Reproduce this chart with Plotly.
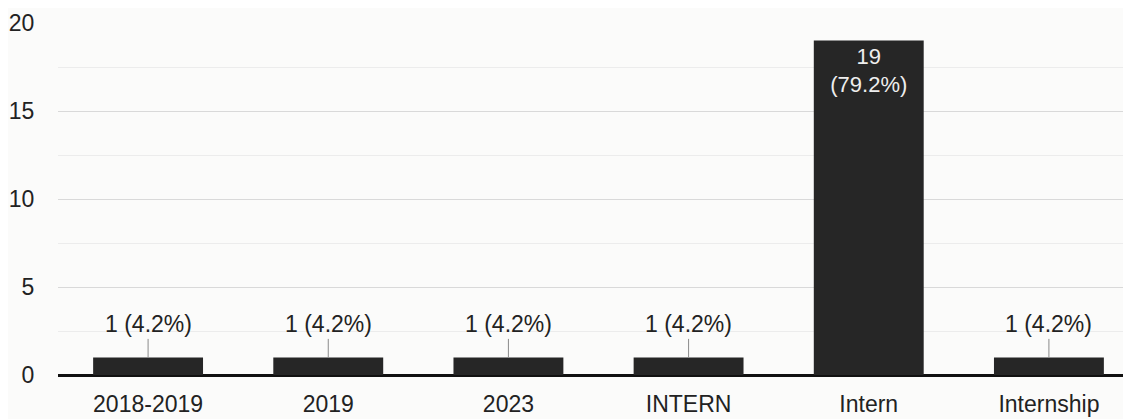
import plotly.graph_objects as go

categories = ["2018-2019", "2019", "2023", "INTERN", "Intern", "Internship"]
counts = [1, 1, 1, 1, 19, 1]
percents = ["4.2%", "4.2%", "4.2%", "4.2%", "79.2%", "4.2%"]

FONT = "Liberation Sans, Arial, sans-serif"
BAR = "#262626"

inside_text = [f"{c}<br>({p})" if c >= 10 else "" for c, p in zip(counts, percents)]

fig = go.Figure()
fig.add_trace(go.Bar(
    x=list(range(len(categories))), y=counts, width=0.61,
    marker=dict(color=BAR, line=dict(width=0)),
    text=inside_text, textposition="inside", insidetextanchor="end",
    textfont=dict(color="#eeeeee", size=22, family=FONT),
    cliponaxis=False, hoverinfo="skip",
))

for i, (c, p) in enumerate(zip(counts, percents)):
    if c < 10:
        fig.add_annotation(
            x=i, y=c, text=f"{c} ({p})", showarrow=True, arrowhead=0,
            arrowwidth=1, arrowcolor="#8a8a8a", ax=0, ay=-33,
            font=dict(size=23, color="#222", family=FONT),
        )

fig.update_layout(
    width=1131, height=419,
    margin=dict(l=50, r=0, t=15, b=52),
    paper_bgcolor="#fbfbfa", plot_bgcolor="#fbfbfa",
    showlegend=False,
    font=dict(family=FONT, size=23, color="#222"),
)
fig.update_xaxes(
    range=[-0.5, 5.5], tickmode="array",
    tickvals=list(range(len(categories))), ticktext=categories,
    showgrid=False, zeroline=False, showline=False, automargin=False,
    ticks="outside", ticklen=8, tickcolor="rgba(0,0,0,0)",
    ticklabeloverflow="allow",
    tickfont=dict(size=23, color="#222", family=FONT),
)
fig.update_yaxes(
    range=[0, 20], tickvals=[0, 5, 10, 15, 20], automargin=False,
    showgrid=True, gridcolor="#d9d9d9", gridwidth=1,
    minor=dict(tickvals=[2.5, 7.5, 12.5, 17.5], showgrid=True, gridcolor="#ececec", gridwidth=1),
    zeroline=True, zerolinecolor="#111", zerolinewidth=2.5,
    ticks="outside", ticklen=18, tickcolor="rgba(0,0,0,0)",
    ticklabeloverflow="allow",
    tickfont=dict(size=23, color="#222", family=FONT),
)

fig.write_html("out.html")
